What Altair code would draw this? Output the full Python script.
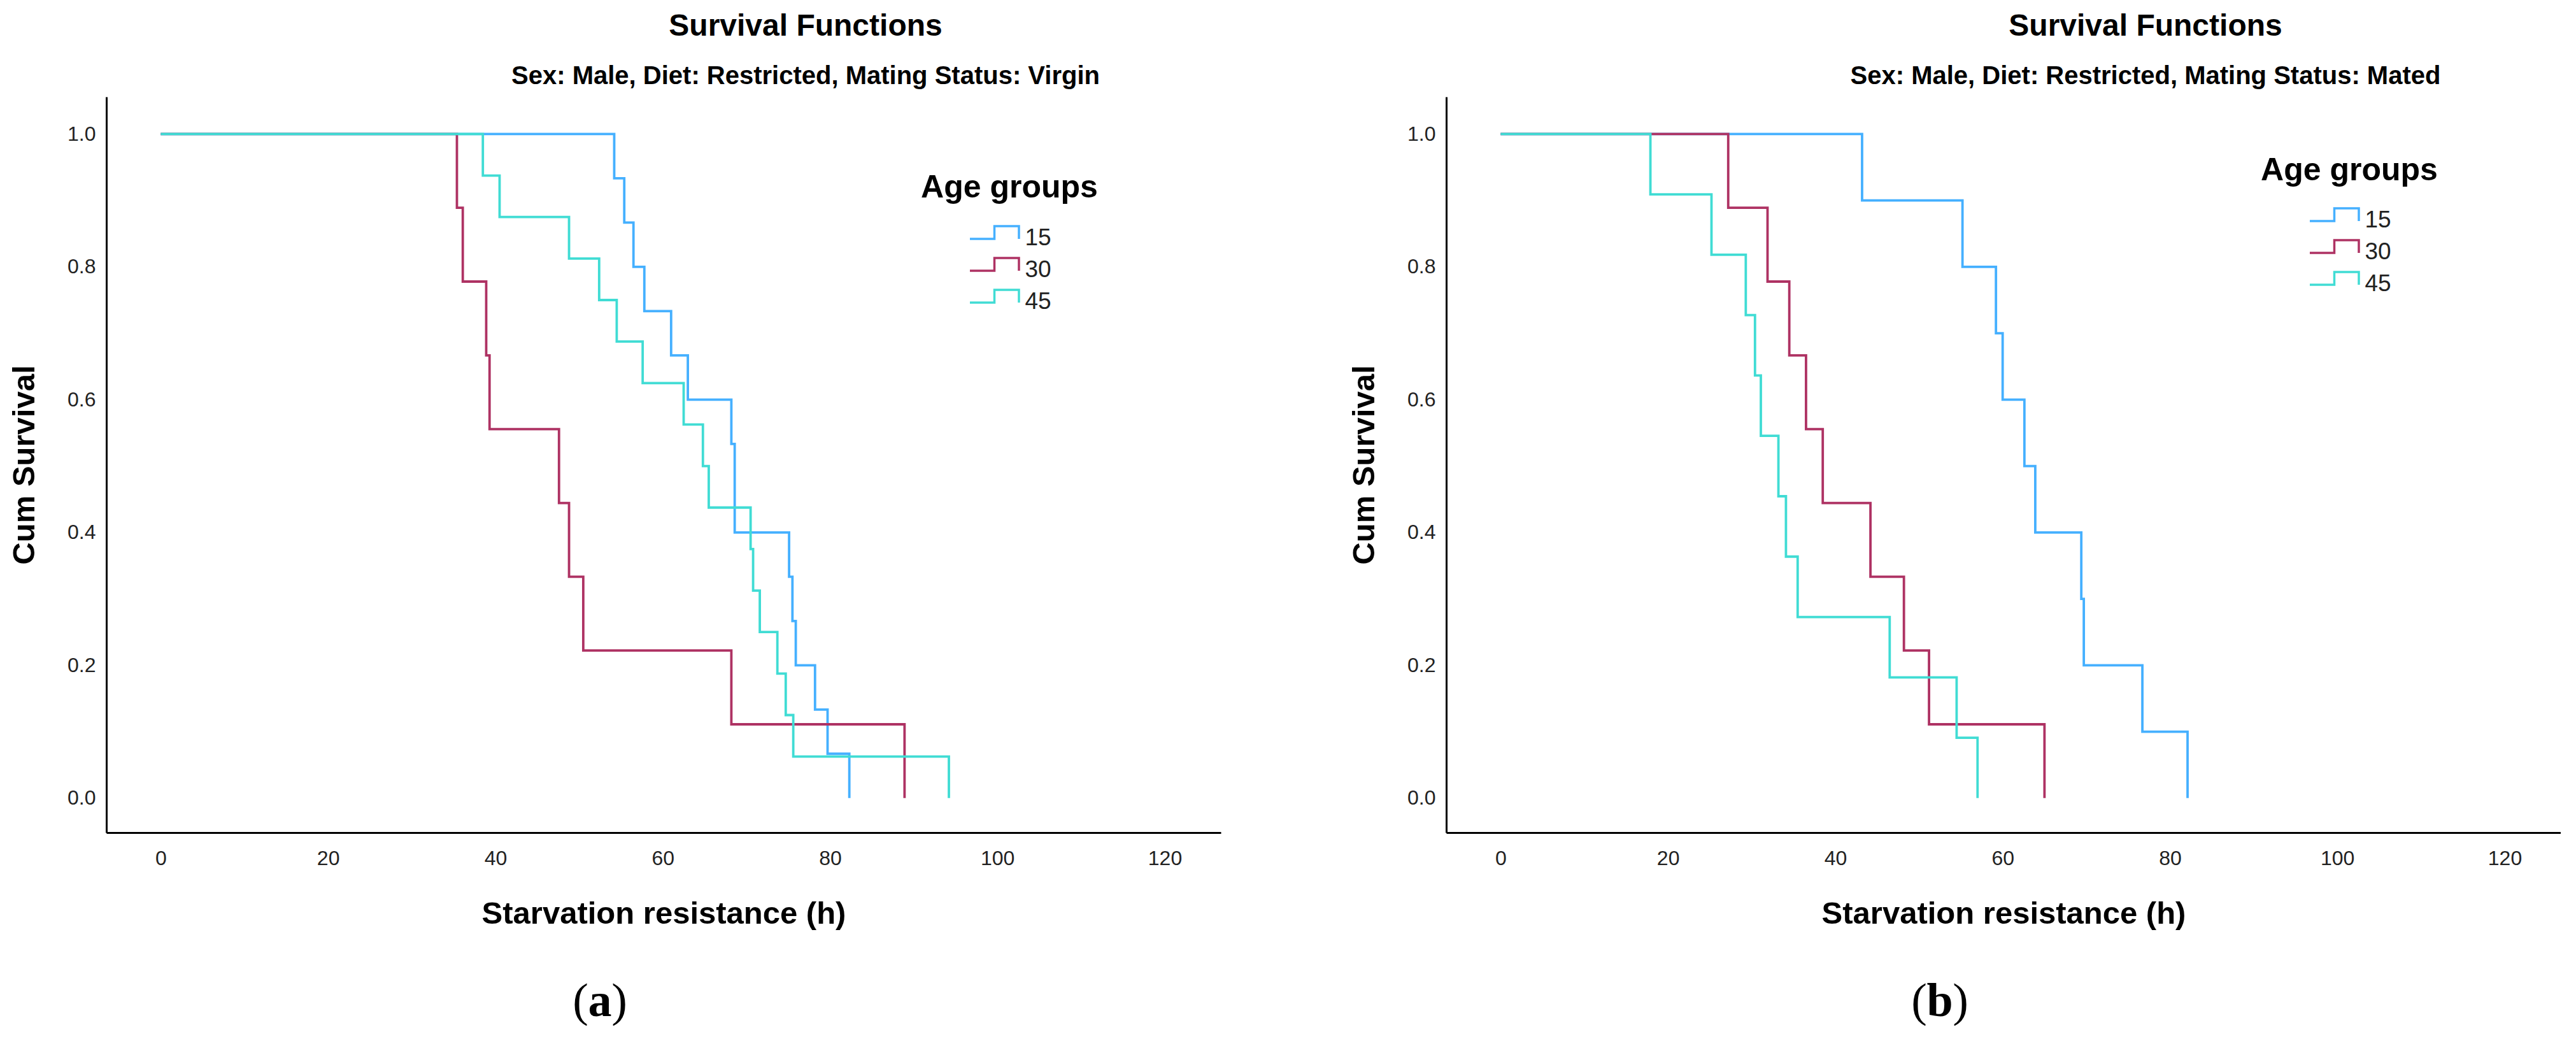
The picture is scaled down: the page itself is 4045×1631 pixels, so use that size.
import altair as alt
import pandas as pd

groups = ["15", "30", "45"]
colors = ["#45B0FF", "#AE3263", "#40DCD4"]

# Panel (a): Virgin
a15_t = [0, 54.2, 55.4, 56.5, 57.8, 61.0, 63.0, 68.2, 68.6, 75.1, 75.5, 75.9, 78.2, 79.7, 82.3]
a15_s = [1.0, 0.9333, 0.8667, 0.8, 0.7333, 0.6667, 0.6, 0.5333, 0.4, 0.3333, 0.2667, 0.2, 0.1333, 0.0667, 0.0]
a30_t = [0, 35.4, 36.1, 38.9, 39.3, 47.6, 48.8, 50.5, 68.2, 88.9]
a30_s = [1.0, 0.8889, 0.7778, 0.6667, 0.5556, 0.4444, 0.3333, 0.2222, 0.1111, 0.0]
a45_t = [0, 38.5, 40.5, 48.8, 52.4, 54.5, 57.6, 62.5, 64.8, 65.5, 70.5, 70.8, 71.6, 73.7, 74.7, 75.6, 94.2]
a45_s = [1.0, 0.9375, 0.875, 0.8125, 0.75, 0.6875, 0.625, 0.5625, 0.5, 0.4375, 0.375, 0.3125, 0.25, 0.1875, 0.125, 0.0625, 0.0]

# Panel (b): Mated
b15_t = [0, 43.2, 55.2, 59.2, 60.0, 62.6, 63.9, 69.4, 69.7, 76.7, 82.1]
b15_s = [1.0, 0.9, 0.8, 0.7, 0.6, 0.5, 0.4, 0.3, 0.2, 0.1, 0.0]
b30_t = [0, 27.2, 31.9, 34.5, 36.5, 38.5, 44.2, 48.2, 51.2, 65.0]
b30_s = [1.0, 0.8889, 0.7778, 0.6667, 0.5556, 0.4444, 0.3333, 0.2222, 0.1111, 0.0]
b45_t = [0, 17.9, 25.2, 29.3, 30.4, 31.1, 33.2, 34.1, 35.5, 46.5, 54.5, 57.0]
b45_s = [1.0, 0.9091, 0.8182, 0.7273, 0.6364, 0.5455, 0.4545, 0.3636, 0.2727, 0.1818, 0.0909, 0.0]

x_ticks = [0, 20, 40, 60, 80, 100, 120]
y_ticks = [0.0, 0.2, 0.4, 0.6, 0.8, 1.0]

SANS = "Liberation Sans"
SERIF = "Liberation Serif"
W, H = 1750, 1155


def frame(ts_list, ss_list):
    rows = []
    for g, ts, ss in zip(groups, ts_list, ss_list):
        for i, (t, s) in enumerate(zip(ts, ss)):
            rows.append({"group": g, "time": t, "surv": s, "order": i})
    return pd.DataFrame(rows)


def txt(s, x, y, size, weight="normal", font=SANS, align="center"):
    return alt.Chart(pd.DataFrame({"t": [s]})).mark_text(
        font=font, fontSize=size, fontWeight=weight, baseline="alphabetic",
        align=align, color="black"
    ).encode(text="t:N", x=alt.value(x), y=alt.value(y))


def panel(df, letter, letter_w, subtitle, legend_y, legend_title_y):
    lines = alt.Chart(df).mark_line(interpolate="step-after", strokeWidth=3.8).encode(
        x=alt.X("time:Q",
                scale=alt.Scale(domain=[-6.5, 126.7], nice=False, zero=False),
                axis=alt.Axis(values=x_ticks, title="Starvation resistance (h)", format="d")),
        y=alt.Y("surv:Q",
                scale=alt.Scale(domain=[-0.052, 1.056], nice=False, zero=False),
                axis=alt.Axis(values=y_ticks, title="Cum Survival", format=".1f")),
        color=alt.Color("group:N",
                        scale=alt.Scale(domain=groups, range=colors),
                        legend=alt.Legend(
                            title=None, orient="none", legendX=1373.5, legendY=legend_y,
                            labelFont=SANS, labelFontSize=37, labelColor="#222222",
                            symbolType="M-2,0.05L0,0.05L0,-0.99L2,-0.99L2,0.05",
                            symbolSize=1482, symbolStrokeWidth=3.5,
                            symbolFillColor="transparent",
                            rowPadding=5, labelOffset=27, padding=0)),
        order="order:Q",
    )
    cx = W / 2 - 100
    by = H + 288
    lp = txt("(", cx - letter_w / 2 - 12, by, 74, font=SERIF)
    lt = txt(letter, cx, by, 74, weight="bold", font=SERIF)
    rp = txt(")", cx + letter_w / 2 + 12, by, 74, font=SERIF)
    leg_title = txt("Age groups", 1418, legend_title_y, 50, weight="bold")
    return alt.layer(lines, leg_title, lp, lt, rp).properties(
        width=W, height=H,
        title=alt.TitleParams(
            text="Survival Functions", subtitle=subtitle,
            font=SANS, fontSize=48, fontWeight="bold", color="black",
            subtitleFont=SANS, subtitleFontSize=40, subtitleFontWeight="bold",
            subtitleColor="black", subtitlePadding=34,
            anchor="middle", dx=223, offset=12),
    )


df_a = frame([a15_t, a30_t, a45_t], [a15_s, a30_s, a45_s])
df_b = frame([b15_t, b30_t, b45_t], [b15_s, b30_s, b45_s])

pa = panel(df_a, "a", 37, "Sex: Male, Diet: Restricted, Mating Status: Virgin", 201, 158.4)
pb = panel(df_b, "b", 41, "Sex: Male, Diet: Restricted, Mating Status: Mated", 173, 131.4)

chart = alt.hconcat(pa, pb, spacing=201).resolve_scale(color="independent").properties(
    padding={"left": 6, "top": 10, "right": 0, "bottom": 0}
).configure_view(stroke=None).configure_axis(
    domainColor="black", domainWidth=3, ticks=False, grid=False,
    labelFont=SANS, labelFontSize=32, labelColor="#222222",
    titleFont=SANS, titleFontSize=49, titleFontWeight="bold", titleColor="black",
).configure_axisX(labelPadding=25, titlePadding=47).configure_axisY(
    labelPadding=17, titlePadding=42)

chart.save("out.html", embed_options={"renderer": "svg", "actions": False})
